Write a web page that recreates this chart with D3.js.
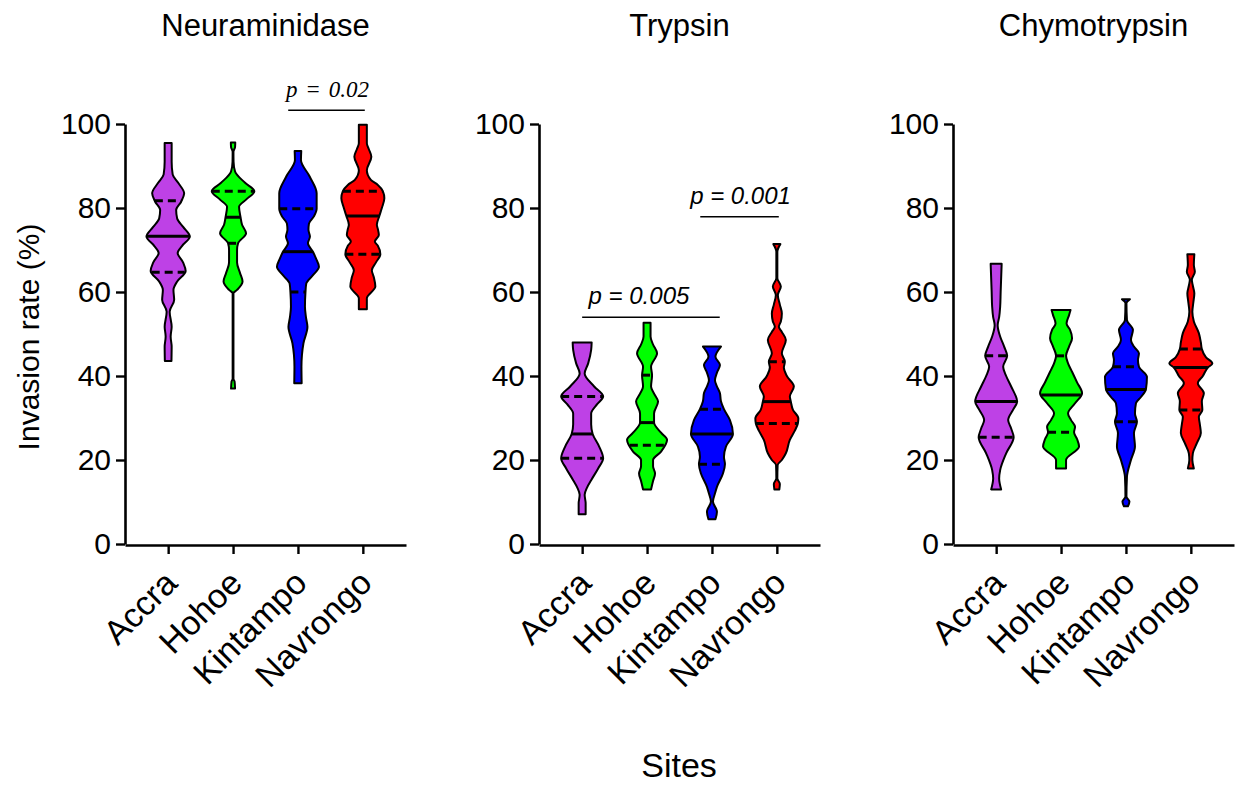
<!DOCTYPE html>
<html>
<head>
<meta charset="utf-8">
<script src="https://cdn.jsdelivr.net/npm/d3@7"></script>
<style>
  html, body { margin: 0; padding: 0; background: #fff; }
  svg { display: block; }
  text { font-family: "Liberation Sans", Arial, sans-serif; fill: #000; }
</style>
</head>
<body>
<svg id="chart" width="1235" height="785"></svg>
<script>
// ---------------- DATA ----------------
const panels = ["Neuraminidase", "Trypsin", "Chymotrypsin"];
const categories = ["Accra", "Hohoe", "Kintampo", "Navrongo"];
const yTicks = [0, 20, 40, 60, 80, 100];

// violin profiles: [invasion rate, density (arbitrary units)] from bottom to top
const neuAccra = [[43.6,3.3],[47,3.5],[49.4,2.5],[51.7,3.5],[55.3,1.5],[58.1,6],[60.5,5.3],[62.5,9],[65,17.5],[67,15],[69.3,9.5],[71,14],[73.2,21.7],[75.5,15],[77.5,9],[79.5,8],[81.5,13],[83.5,16],[86,10],[88,4.5],[91,3.5],[95.5,3.5]];
const neuHohoe = [[37,2],[38.7,1.5],[39.3,0.4],[59.7,0.4],[60.5,4],[62.5,9.5],[64.5,7],[67,4],[70,4],[71.6,5],[74,13],[76,9],[77.8,7.5],[80.3,6],[82,13],[84,21.3],[86,12],[88.7,2],[91,0.5],[93.4,0.4],[94.5,2],[95.6,2.2]];
const neuKintampo = [[38.3,3.7],[42.2,3.5],[45,4],[47.8,5.5],[51.7,9.5],[54,8],[56.5,7],[59.9,7.5],[62,8.3],[64,15],[66,21],[68,18],[69.6,15],[71.6,10],[73.2,12],[74.8,10.5],[76.3,11],[78,16],[79.8,18.7],[83.5,18.7],[87.5,11.7],[91.4,3],[93.6,3.3]];
const neuNavrongo = [[55.9,4],[58.5,4],[61.3,12.5],[63.5,11],[65.2,9],[67,13],[69,17.5],[71,15],[72,12],[73.6,16],[75,15],[76,14],[78.1,16.5],[80,19],[82.3,21.5],[84,20],[85.5,15],[86.7,8],[89,4],[92.2,8.5],[94,6],[95.4,4],[99.8,4]];

const tryAccra = [[7.1,3.5],[9.7,3.5],[11.7,2.5],[13.5,5],[15.2,9],[18,16],[20.4,21],[23.2,17],[26.2,10.5],[28.5,9],[31.1,9],[33.3,15],[35.1,21],[37.5,12],[40.6,2.5],[43,6],[46.2,9],[48,9.5]];
const tryHohoe = [[13,4],[15,6],[16.8,8],[18.5,6],[20,6],[22,14],[24.8,20],[26.5,14],[28.9,7],[31.1,7],[33.9,11],[35.8,7],[37.5,4],[40.2,5],[42.2,4],[45.4,10],[47.5,6],[49.4,3.5],[52.7,3.5]];
const tryKintampo = [[5.9,3.5],[7.7,5],[10.1,1],[12,3],[13.6,5],[16.8,11],[19,13],[20.8,12],[23.2,14],[26.2,21],[29.5,18],[32.1,12],[34,9],[35.9,8],[37.5,5],[39,3],[40.8,5],[42.6,8],[44.6,3.5],[47,9]];
const tryNavrongo = [[13,2.5],[14.3,3],[15.6,0.5],[18.8,0.8],[20,5],[21.6,9],[24.8,13],[27,18],[28.7,21],[29.9,21.5],[32,16],[33.9,14],[35.1,13],[37.5,17],[40,10],[42,7],[43.4,8],[45.4,5],[48.6,9],[50.5,5],[51.7,2],[53,4],[54.9,5],[57,3],[59.3,1],[61.3,4],[63.3,0.5],[69.6,0.5],[71.4,3.5]];

const chyAccra = [[13,5],[15.6,3],[17.6,4],[21.6,10],[25.4,17.5],[27.5,15],[29.5,12],[32,17],[33.9,21],[37.5,15],[40,10],[42.2,7],[44.8,11],[47,8],[49.4,4],[52.1,1.5],[54,3],[56.5,4],[60,4.5],[66.7,5.5]];
const chyHohoe = [[18,5],[20,5],[23.2,18],[25,16],[26.6,13],[27.9,14],[29.5,10],[31.1,7],[33.5,14],[35.9,21],[38.5,16],[41,11],[43,7],[44.8,5],[47,8],[49,11],[51,9],[52.5,5.5],[54.5,8],[55.7,9.5]];
const chyKintampo = [[9,2],[10.1,3.5],[11.3,0.5],[16,1],[20,5],[23.2,9],[26.4,8],[29.1,11],[31.1,9],[33.5,10],[35,15],[36.8,20],[39.8,21],[42.2,13],[43.8,12],[45.4,13],[47,8],[48.6,5],[51,7],[53.3,1],[57.3,0.5],[58.3,4]];
const chyNavrongo = [[18,3],[20,1.5],[21.6,2],[24,6],[26.4,10],[28.5,9],[30.3,8],[31.9,11.5],[34,11],[35.9,13],[38.3,7],[40,12],[42,17],[43,21.5],[44.5,15],[46.4,11],[48,10],[50.2,8],[53,3],[55.3,1.5],[57.5,2.5],[59.7,3.5],[61.5,2],[62.9,1],[64.8,4],[66.4,3],[69,3.5]];

// medians and quartiles per panel (Accra, Hohoe, Kintampo, Navrongo)
const neuMedian = [73.3, 77.8, 69.6, 78.1];
const neuQ1     = [64.7, 71.6, 60.0, 69.0];
const neuQ3     = [81.7, 84.0, 79.8, 84.0];
const tryMedian = [26.2, 28.9, 26.2, 33.9];
const tryQ1     = [20.4, 23.5, 19.0, 28.7];
const tryQ3     = [35.1, 40.2, 32.1, 43.4];
const chyMedian = [33.9, 35.5, 36.8, 42.0];
const chyQ1     = [25.4, 26.6, 29.1, 31.9];
const chyQ3     = [44.8, 44.8, 42.2, 46.4];

// significance annotations: panel index, from/to (category index), bracket level (%), label
const sigPanel = [0, 1, 1];
const sigFrom  = [1.85, 0.0, 1.82];
const sigTo    = [3.03, 2.12, 3.03];
const sigLevel = [103.3, 54.0, 77.9];
const sigLabel = ["p = 0.02", "p = 0.005", "p = 0.001"];
const sigShift = [0, -13, 0];

// ---------------- BUILD ----------------
const profiles = [
  [neuAccra, neuHohoe, neuKintampo, neuNavrongo],
  [tryAccra, tryHohoe, tryKintampo, tryNavrongo],
  [chyAccra, chyHohoe, chyKintampo, chyNavrongo]
];
const medians = [neuMedian, tryMedian, chyMedian];
const q1s = [neuQ1, tryQ1, chyQ1];
const q3s = [neuQ3, tryQ3, chyQ3];
const colors = ["#BE41E6", "#00FF00", "#0000FF", "#FF0000"];

const svg = d3.select("#chart");
const panelX = d3.scaleLinear().domain([0, 2]).range([125, 953]);
const plotW = 281;
const y = d3.scaleLinear().domain([0, 100]).range([544, 124]);
const w = d3.scaleLinear().domain([0, 22]).range([0, 22]);

function widthAt(prof, v) {
  for (let i = 0; i < prof.length - 1; i++) {
    const a = prof[i], b = prof[i + 1];
    if (v >= a[0] && v <= b[0]) {
      const t = (v - a[0]) / (b[0] - a[0] || 1);
      return a[1] + t * (b[1] - a[1]);
    }
  }
  return 0;
}

panels.forEach((title, p) => {
  const x0 = panelX(p);
  const x = d3.scalePoint().domain(categories).range([x0, x0 + plotW]).padding(0.665);
  const idx = d3.scaleLinear().domain([0, 3]).range([x(categories[0]), x(categories[3])]);
  const g = svg.append("g");

  // title
  g.append("text")
    .attr("x", x0 + plotW / 2).attr("y", 36)
    .attr("text-anchor", "middle")
    .style("font-size", "31px")
    .text(title);

  // violins
  categories.forEach((c, i) => {
    const prof = profiles[p][i];
    const cx = x(c);
    const area = d3.area()
      .y(d => y(d[0]))
      .x0(d => cx - w(d[1]))
      .x1(d => cx + w(d[1]))
      .curve(d3.curveMonotoneY);
    g.append("path")
      .attr("d", area(prof))
      .attr("fill", colors[i])
      .attr("stroke", "#000")
      .attr("stroke-width", 2)
      .attr("stroke-linejoin", "round");

    const med = medians[p][i];
    const hm = w(widthAt(prof, med));
    g.append("line")
      .attr("x1", cx - hm).attr("x2", cx + hm)
      .attr("y1", y(med)).attr("y2", y(med))
      .attr("stroke", "#000").attr("stroke-width", 3);

    [q1s[p][i], q3s[p][i]].forEach(q => {
      const hq = w(widthAt(prof, q));
      g.append("line")
        .attr("x1", cx - hq).attr("x2", cx + hq)
        .attr("y1", y(q)).attr("y2", y(q))
        .attr("stroke", "#000").attr("stroke-width", 3)
        .attr("stroke-dasharray", "8,5");
    });
  });

  // y axis
  const ya = g.append("g")
    .attr("transform", `translate(${x0},0)`)
    .call(d3.axisLeft(y).tickValues(yTicks).tickSize(9).tickSizeOuter(0).tickPadding(5));
  ya.select(".domain").attr("stroke-width", 2.6);
  ya.selectAll(".tick line").attr("stroke-width", 2.4);
  ya.selectAll(".tick text")
    .style("font-size", "30px")
    .style("font-family", "'Liberation Sans', Arial, sans-serif")
    .attr("fill", "#000");

  // x axis
  const xa = g.append("g")
    .attr("transform", `translate(0,${y(0) + 1})`)
    .call(d3.axisBottom(x).tickSize(9).tickSizeOuter(0).tickFormat(() => ""));
  xa.select(".domain").attr("stroke-width", 2.6);
  xa.selectAll(".tick line").attr("stroke-width", 2.4);

  categories.forEach(c => {
    g.append("text")
      .attr("transform", `translate(${x(c) + 11},${y(0) + 41}) rotate(-45)`)
      .attr("text-anchor", "end")
      .style("font-size", "34px")
      .text(c);
  });

  // significance brackets
  sigPanel.forEach((sp, k) => {
    if (sp !== p) return;
    const xa1 = idx(sigFrom[k]), xa2 = idx(sigTo[k]);
    g.append("line")
      .attr("x1", xa1).attr("x2", xa2)
      .attr("y1", y(sigLevel[k])).attr("y2", y(sigLevel[k]))
      .attr("stroke", "#000").attr("stroke-width", 1.5);
    const t = g.append("text")
      .attr("x", (xa1 + xa2) / 2 + 1 + sigShift[k])
      .attr("y", y(sigLevel[k]) - 13)
      .attr("text-anchor", "middle")
      .style("font-style", "italic");
    if (p === 0) {
      t.style("font-family", "'Liberation Serif', 'Times New Roman', serif")
       .style("font-size", "23px").style("word-spacing", "2px");
    } else {
      t.style("font-size", "24px");
    }
    t.text(sigLabel[k]);
  });
});

// shared axis titles
svg.append("text")
  .attr("transform", `translate(39,${(y(0) + y(100)) / 2 + 3}) rotate(-90)`)
  .attr("text-anchor", "middle")
  .style("font-size", "30px")
  .text("Invasion rate (%)");

svg.append("text")
  .attr("x", 679).attr("y", 777)
  .attr("text-anchor", "middle")
  .style("font-size", "34px")
  .text("Sites");
</script>
</body>
</html>
